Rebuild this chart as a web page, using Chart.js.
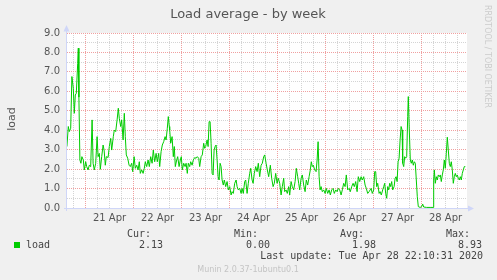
<!DOCTYPE html>
<html>
<head>
<meta charset="utf-8">
<script src="https://cdn.jsdelivr.net/npm/chart.js@4/dist/chart.umd.min.js"></script>
<style>
  html, body { margin: 0; padding: 0; background: #f0f0f0; }
  canvas { display: block; }
</style>
</head>
<body>
<canvas id="load-chart" width="497" height="280"></canvas>
<script>
// sample times, in hours from 21 Apr 00:00
const hours = [
  -9.3, -8.6, -8.1, -7.4, -6.8, -6.1, -5.6, -5.1, -4.6, -3.9,
  -3.6, -3.3, -2.8, -2.3, -1.8, -1.1, -0.6, 0.1, 0.6, 1.3,
  1.9, 2.6, 3.3, 3.8, 4.4, 5.1, 5.8, 6.3, 6.9, 7.4,
  8.1, 8.8, 9.3, 9.9, 10.4, 11.3, 11.9, 12.6, 13.1, 13.9,
  14.4, 15.1, 15.8, 16.4, 16.9, 17.6, 18.1, 18.8, 19.4, 19.9,
  20.4, 21.1, 21.8, 22.4, 23.1, 23.6, 24.3, 24.9, 25.6, 26.3,
  26.9, 27.4, 28.1, 28.8, 29.4, 29.9, 30.6, 31.3, 31.9, 32.6,
  33.3, 33.9, 34.6, 35.3, 35.9, 36.6, 37.1, 37.8, 38.4, 39.1,
  39.8, 40.3, 40.9, 41.4, 41.9,
  42.1, 42.6, 43.3, 43.9, 44.4, 44.9, 45.6, 46.1, 46.8, 47.4,
  47.9, 48.4, 49.1, 49.8, 50.3, 50.9, 51.4, 52.1, 52.6, 53.3,
  53.9, 54.6, 55.3, 55.9, 56.6, 57.1, 57.8, 58.4, 59.1, 59.6,
  60.1, 60.8, 61.3, 61.8, 62.3, 62.8, 63.3, 63.8, 64.3, 64.8,
  65.3, 65.8, 66.3, 66.8, 67.3, 67.8, 68.3, 68.9, 69.4, 70.1,
  70.8, 71.4, 72.1, 72.8, 73.3, 73.9, 74.6, 75.3, 75.8, 76.4,
  77.1, 77.8, 78.3, 78.9, 79.6, 80.1, 80.8, 81.4, 82.1, 82.6,
  83.3, 83.8, 84.4, 85.1, 85.8, 86.4, 87.1, 87.8, 88.4, 89.1,
  89.6, 90.3, 90.9, 91.6, 92.3,
  92.4, 93.1, 93.8, 94.4, 95.1, 95.8, 96.4, 97.1, 97.8, 98.4,
  99.1, 99.6, 100.3, 100.9, 101.6, 102.1, 102.8, 103.4, 104.1, 104.8,
  105.4, 106.1, 106.6, 107.1, 107.8, 108.4, 109.1, 109.8, 110.4, 111.1,
  111.8, 112.4, 112.9, 113.4, 113.9, 114.6, 115.3, 115.8, 116.3, 116.8,
  117.3, 117.8, 118.4, 119.1, 119.8, 120.4, 121.1, 121.8, 122.4, 123.1,
  123.8, 124.4, 125.1, 125.8, 126.4, 127.1, 127.8, 128.4, 129.1, 129.8,
  130.4, 131.1, 131.8, 132.4, 133.1, 133.8, 134.4, 135.1, 135.8, 136.4,
  137.1, 137.8, 138.4, 139.1, 139.8, 140.4, 141.1, 141.8,
  142.8, 143.4, 144.1, 144.6, 145.1, 145.6, 146.1, 146.8, 147.3, 147.9,
  148.6, 149.1, 149.6, 150.1, 150.6, 151.1, 151.6, 152.1, 152.6, 153.1,
  153.6, 154.3, 154.8, 155.3, 155.8, 156.3, 156.8, 157.3, 157.8, 158.3,
  158.6, 159.1, 159.6, 160.1, 160.6, 161.1, 161.4, 161.9, 162.4, 162.9,
  163.4, 163.9, 164.4, 164.9, 165.4, 165.9, 166.4, 167.3, 168.1, 168.6,
  169.1, 170.6, 172.3, 173.8, 174.1, 174.4, 174.9, 175.4, 175.9, 176.4,
  176.9, 177.4, 177.9, 178.4, 178.9, 179.4, 179.9, 180.4, 180.9, 181.4,
  181.9, 182.4, 182.9, 183.4, 183.9, 184.4, 184.9, 185.4, 185.9, 186.4,
  186.9, 187.4, 187.9, 188.4, 188.9, 189.4, 189.9
];

const load = [
  3.16, 4.19, 3.93, 4.10, 6.76, 6.16, 4.87, 5.81, 5.90, 7.44,
  8.22, 5.70, 2.47, 2.30, 2.64, 2.47, 1.96, 2.38, 2.13, 1.96,
  2.20, 2.13, 4.53, 2.30, 1.96, 2.30, 3.67, 2.64, 2.81, 1.99,
  2.64, 3.24, 2.98, 2.20, 2.64, 2.60, 3.16, 3.58, 2.98, 3.67,
  4.01, 3.93, 4.53, 5.13, 4.61, 4.19, 4.53, 3.50, 4.87, 3.67,
  2.73, 2.56, 2.20, 2.13, 2.30, 1.87, 2.64, 2.04, 2.20, 1.96,
  2.38, 1.78, 1.96, 1.78, 2.04, 2.38, 2.13, 2.47, 2.13, 2.64,
  2.30, 2.98, 2.38, 2.81, 2.38, 2.81, 2.13, 2.90, 3.24, 3.41,
  3.67, 3.50, 4.10, 4.70, 4.19,
  4.01, 3.33, 3.67, 2.64, 3.16, 2.13, 2.47, 2.64, 2.13, 2.47,
  2.64, 1.96, 2.30, 2.13, 2.30, 1.78, 2.30, 2.13, 2.38, 2.20,
  2.47, 2.59, 2.56, 2.64, 2.56, 2.13, 2.64, 2.73, 3.33, 3.07,
  3.16, 3.50, 3.16, 4.44, 4.44, 3.33, 1.78, 1.70, 2.98, 3.16,
  3.24, 2.47, 1.61, 1.44, 2.30, 2.13, 1.44, 1.18, 1.44, 1.10,
  1.36, 0.93, 1.10, 0.67, 0.84, 0.75, 1.27, 1.44, 1.10, 0.93,
  1.01, 0.75, 1.01, 0.75, 1.36, 1.44, 0.75, 1.27, 1.78, 2.04,
  1.44, 1.27, 1.78, 2.13, 1.87, 2.30, 1.61, 2.20, 2.30, 2.64,
  2.73, 2.30, 1.96, 1.61, 2.13,
  2.20, 1.53, 1.10, 1.27, 1.78, 1.27, 1.53, 1.27, 0.67, 1.10,
  1.53, 0.84, 0.93, 0.75, 1.10, 0.67, 1.36, 1.10, 0.93, 1.36,
  2.04, 1.61, 1.27, 0.93, 1.53, 1.70, 1.18, 0.84, 1.44, 1.18,
  1.61, 1.96, 2.38, 2.13, 2.20, 1.96, 1.87, 2.47, 3.41, 1.61,
  0.93, 1.10, 0.84, 0.93, 0.75, 1.01, 0.75, 0.93, 0.67, 0.93,
  1.01, 0.75, 0.93, 0.84, 1.01, 0.93, 0.67, 0.93, 1.27, 1.10,
  1.70, 0.93, 1.01, 0.84, 1.10, 1.27, 1.10, 1.36, 0.84, 1.61,
  1.36, 1.61, 1.44, 1.61, 1.18, 1.01, 0.75, 0.84,
  1.01, 0.75, 0.93, 1.87, 1.87, 1.10, 1.27, 0.75, 0.84, 0.67,
  0.93, 1.10, 1.27, 0.75, 0.50, 1.10, 0.93, 1.27, 1.10, 1.36,
  0.93, 1.10, 1.53, 1.61, 1.36, 2.38, 2.56, 3.50, 4.19, 4.01,
  2.30, 2.13, 2.64, 2.56, 2.64, 4.70, 5.73, 4.01, 2.47, 2.30,
  2.47, 2.20, 2.38, 2.30, 1.44, 0.58, 0.07, 0.03, 0.07, 0.20,
  0.05, 0.03, 0.03, 0.03, 1.44, 1.96, 1.27, 1.61, 1.44, 1.70,
  1.61, 1.70, 1.36, 1.70, 1.96, 2.47, 2.04, 2.81, 3.64, 2.98,
  2.30, 2.13, 2.38, 1.96, 1.27, 1.61, 1.78, 1.61, 1.70, 1.53,
  1.44, 1.61, 1.44, 1.78, 1.96, 2.13, 2.13
];

const dayLabels = ['21 Apr', '22 Apr', '23 Apr', '24 Apr', '25 Apr', '26 Apr', '27 Apr', '28 Apr'];
const yTickLabels = ['0.0', '1.0', '2.0', '3.0', '4.0', '5.0', '6.0', '7.0', '8.0', '9.0'];
const statNames = ['Cur:', 'Min:', 'Avg:', 'Max:'];
const statValues = ['2.13', '0.00', '1.98', '8.93'];

const RED_GRID = '#f0a0a0';
const GRAY_GRID = '#d4d4d4';
const AXIS = '#cfd6f8';

// one tick every 6 hours; midnight = major line, noon = day label
const xTicks = [];
for (let h = -6; h <= 190; h += 6) xTicks.push(h);

const points = hours.map((h, i) => ({ x: h, y: load[i] }));

const muninDecor = {
    id: 'muninDecor',
    beforeDraw(chart) {
        const { ctx, chartArea: a } = chart;
        ctx.save();
        ctx.fillStyle = '#f0f0f0';
        ctx.fillRect(0, 0, chart.width, chart.height);
        ctx.fillStyle = '#ffffff';
        ctx.fillRect(a.left, a.top, a.right - a.left, a.bottom - a.top);
        ctx.restore();
    },
    afterDraw(chart) {
        const { ctx, chartArea: a } = chart;
        ctx.save();

        // axes with arrows
        ctx.strokeStyle = AXIS;
        ctx.fillStyle = AXIS;
        ctx.lineWidth = 1;
        ctx.beginPath();
        ctx.moveTo(a.left - 0.5, a.bottom + 3);
        ctx.lineTo(a.left - 0.5, a.top - 4);
        ctx.moveTo(a.left - 3, a.bottom + 0.5);
        ctx.lineTo(a.right + 2, a.bottom + 0.5);
        ctx.stroke();
        ctx.beginPath();
        ctx.moveTo(a.left - 0.5, a.top - 8);
        ctx.lineTo(a.left - 3.5, a.top - 1.5);
        ctx.lineTo(a.left + 2.5, a.top - 1.5);
        ctx.closePath();
        ctx.fill();
        ctx.beginPath();
        ctx.moveTo(a.right + 7, a.bottom + 0.5);
        ctx.lineTo(a.right + 1, a.bottom - 2.5);
        ctx.lineTo(a.right + 1, a.bottom + 3.5);
        ctx.closePath();
        ctx.fill();

        // title
        ctx.fillStyle = '#555';
        ctx.font = '13px "DejaVu Sans"';
        ctx.textAlign = 'center';
        ctx.textBaseline = 'alphabetic';
        ctx.fillText('Load average - by week', 248, 18);

        // vertical axis title
        ctx.save();
        ctx.translate(15, 119);
        ctx.rotate(-Math.PI / 2);
        ctx.font = '11px "DejaVu Sans"';
        ctx.fillText('load', 0, 0);
        ctx.restore();

        // rrdtool watermark
        ctx.save();
        ctx.translate(485, 5);
        ctx.rotate(Math.PI / 2);
        ctx.fillStyle = '#cccccc';
        ctx.font = '8px "DejaVu Sans"';
        ctx.textAlign = 'left';
        ctx.fillText('RRDTOOL / TOBI OETIKER', 0, 0);
        ctx.restore();

        // legend table
        ctx.fillStyle = '#00cc00';
        ctx.fillRect(14, 242, 6, 6);
        ctx.fillStyle = '#444';
        ctx.font = '10px "DejaVu Sans Mono"';
        ctx.textAlign = 'left';
        ctx.fillText('load', 26, 248);
        const cols = [127, 234, 340, 446];
        statNames.forEach((name, i) => {
            ctx.fillText(name, cols[i], 237);
            ctx.fillText(statValues[i], cols[i] + 12, 248);
        });
        ctx.textAlign = 'right';
        ctx.fillText('Last update: Tue Apr 28 22:10:31 2020', 483, 259);

        ctx.fillStyle = '#c4c4c4';
        ctx.font = '8px "DejaVu Sans"';
        ctx.textAlign = 'center';
        ctx.fillText('Munin 2.0.37-1ubuntu0.1', 248, 272);

        ctx.restore();
    }
};

const ctx = document.getElementById('load-chart').getContext('2d');
new Chart(ctx, {
    type: 'line',
    data: {
        datasets: [{
            label: 'load',
            data: points,
            borderColor: '#00cc00',
            borderWidth: 1,
            pointRadius: 0,
            tension: 0,
            fill: false
        }]
    },
    options: {
        responsive: false,
        animation: false,
        devicePixelRatio: 1,
        layout: {
            padding: { left: 0, top: 33, right: 30, bottom: 50 }
        },
        plugins: {
            legend: { display: false },
            tooltip: { enabled: false }
        },
        scales: {
            x: {
                type: 'linear',
                min: -9.25,
                max: 190.75,
                afterBuildTicks: (scale) => {
                    scale.ticks = xTicks.map(v => ({ value: v }));
                },
                afterFit: (scale) => {
                    scale.height = 22;
                },
                grid: {
                    color: (c) => (c.tick && c.tick.value % 24 === 0 ? RED_GRID : GRAY_GRID),
                    drawTicks: false,
                    lineWidth: 1
                },
                border: { display: false, dash: [1, 1] },
                ticks: {
                    autoSkip: false,
                    maxRotation: 0,
                    padding: 4,
                    color: '#555',
                    font: { family: 'DejaVu Sans', size: 10 },
                    callback: (value) => ((value - 12) % 24 === 0 ? dayLabels[(value - 12) / 24] : '')
                }
            },
            y: {
                min: 0,
                max: 9,
                afterFit: (scale) => {
                    scale.width = 67;
                },
                grid: {
                    color: (c) => (c.tick && Number.isInteger(c.tick.value) ? RED_GRID : GRAY_GRID),
                    drawTicks: false,
                    lineWidth: 1
                },
                border: { display: false, dash: [1, 1] },
                ticks: {
                    stepSize: 0.5,
                    autoSkip: false,
                    padding: 7,
                    color: '#555',
                    font: { family: 'DejaVu Sans', size: 10 },
                    callback: (value) => (Number.isInteger(value) ? yTickLabels[value] : '')
                }
            }
        }
    },
    plugins: [muninDecor]
});
</script>
</body>
</html>
